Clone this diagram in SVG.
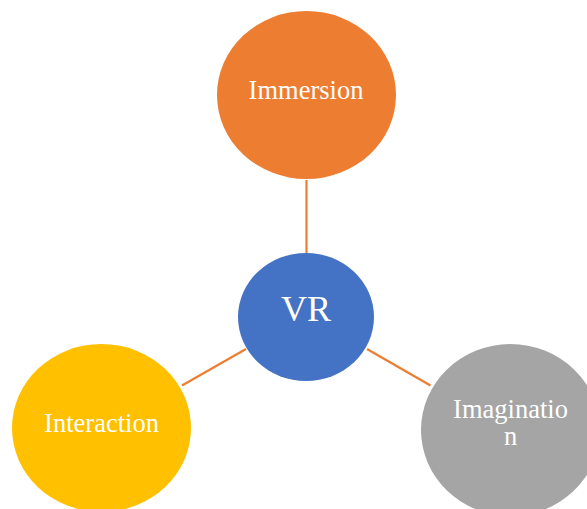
<svg xmlns="http://www.w3.org/2000/svg" width="587" height="509" viewBox="0 0 587 509">
<style>
.lbl{font-family:"Liberation Serif","Times New Roman",serif;fill:#fff;text-anchor:middle;font-size:26.5px}
.conn line{stroke:#ED7D31;stroke-width:2.2}
</style>
<rect width="587" height="509" fill="#fff"/>
<g class="conn" id="connectors">
<line x1="306.5" y1="180" x2="306.5" y2="253"/>
<line x1="182" y1="385.5" x2="246" y2="349"/>
<line x1="367" y1="349" x2="430.5" y2="385.5"/>
</g>
<g id="immersion">
<ellipse cx="306.5" cy="95" rx="89.5" ry="84" fill="#ED7D31"/>
<text class="lbl" x="306" y="99">Immersion</text>
</g>
<g id="vr">
<ellipse cx="306" cy="317" rx="68" ry="64" fill="#4472C4"/>
<text class="lbl" x="306" y="321" style="font-size:36px">VR</text>
</g>
<g id="interaction">
<ellipse cx="101.5" cy="428" rx="89.5" ry="84" fill="#FFC000"/>
<text class="lbl" x="101.5" y="431.5">Interaction</text>
</g>
<g id="imagination">
<ellipse cx="510.5" cy="430" rx="89.5" ry="86" fill="#A5A5A5"/>
<text class="lbl" x="510.5" y="417.5">Imaginatio</text>
<text class="lbl" x="510.5" y="445">n</text>
</g>
</svg>
